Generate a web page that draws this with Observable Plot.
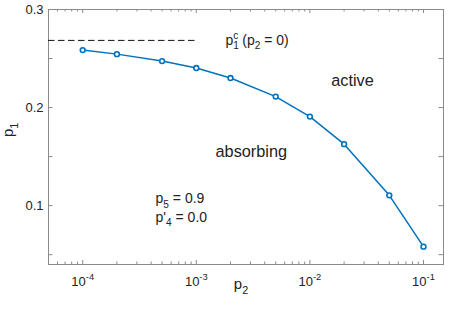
<!DOCTYPE html>
<html><head><meta charset="utf-8">
<script src="https://cdn.jsdelivr.net/npm/d3@7"></script>
<script src="https://cdn.jsdelivr.net/npm/@observablehq/plot@0.6"></script>
<style>
body{margin:0;background:#fff}
#chart svg{font-family:"Liberation Sans",Arial,Helvetica,sans-serif;background:#fff}
</style>
</head><body><div id="chart"></div>
<script>
// ---- data ----
const p2 = [1e-4, 2e-4, 5e-4, 1e-3, 2e-3, 5e-3, 1e-2, 2e-2, 5e-2, 1e-1];
const p1 = [0.2586, 0.2545, 0.2474, 0.2403, 0.2301, 0.2112, 0.1908, 0.1627, 0.1105, 0.0582];
const p1c = 0.2685;
const p1cRange = [5e-5, 1e-3];
const xDomain = [5e-5, 0.15];
const yDomain = [0.04, 0.3];
const xMajor = [1e-4, 1e-3, 1e-2, 1e-1];
const xTickLabels = ["10^{-4}", "10^{-3}", "10^{-2}", "10^{-1}"];
const xMinor = [5e-5, 6e-5, 7e-5, 8e-5, 9e-5,
  2e-4, 3e-4, 4e-4, 5e-4, 6e-4, 7e-4, 8e-4, 9e-4,
  2e-3, 3e-3, 4e-3, 5e-3, 6e-3, 7e-3, 8e-3, 9e-3,
  2e-2, 3e-2, 4e-2, 5e-2, 6e-2, 7e-2, 8e-2, 9e-2];
const yTicks = [0.05, 0.1, 0.15, 0.2, 0.25, 0.3];
const yLabeled = [0.1, 0.2, 0.3];
const yTickLabels = ["0.1", "0.2", "0.3"];
const regionLabels = ["active", "absorbing"];
const regionX = [0.0237, 3.05e-3];
const regionY = [0.2276, 0.1546];
const paramLabels = ["p_{5} = 0.9", "p'_{4} = 0.0"];
const paramX = [4.38e-4, 4.38e-4];
const paramY = [0.1072, 0.0882];
const critLabel = "p_{1}^{c} (p_{2} = 0)";
const critX = 1.81e-3;
const critY = 0.2688;
const xLabel = "p_{2}";
const yLabel = "p_{1}";

// ---- layout ----
const W = 450, H = 311, mL = 48, mR = 7, mT = 9, mB = 47;
const plotH = H - mT - mB, plotW = W - mL - mR;
const axisColor = "#8a8a8a", blue = "#0072BD", ink = "#222";

const pts = p2.map((x, i) => ({x, y: p1[i]}));
const regions = regionLabels.map((t, i) => ({t, x: regionX[i], y: regionY[i]}));
const params = paramLabels.map((t, i) => ({t, x: paramX[i], y: paramY[i]}));

const chart = Plot.plot({
  width: W, height: H,
  marginLeft: mL, marginRight: mR, marginTop: mT, marginBottom: mB,
  x: {type: "log", domain: xDomain},
  y: {domain: yDomain},
  style: {fontSize: "13px", color: ink},
  marks: [
    Plot.frame({stroke: axisColor, strokeWidth: 1}),
    // ticks (inward, all four sides)
    Plot.ruleX(xMajor, {x: d => d, insetTop: plotH - 4, stroke: axisColor}),
    Plot.ruleX(xMajor, {x: d => d, insetBottom: plotH - 4, stroke: axisColor}),
    Plot.ruleX(xMinor, {x: d => d, insetTop: plotH - 2.5, stroke: axisColor}),
    Plot.ruleX(xMinor, {x: d => d, insetBottom: plotH - 2.5, stroke: axisColor}),
    Plot.ruleY(yTicks, {y: d => d, insetRight: plotW - 4.5, stroke: axisColor}),
    Plot.ruleY(yTicks, {y: d => d, insetLeft: plotW - 4.5, stroke: axisColor}),
    Plot.axisX({ticks: xMajor, tickSize: 0, tickPadding: 12, label: null,
      tickFormat: d => xTickLabels[xMajor.indexOf(d)], fontSize: 13, fill: ink}),
    Plot.axisY({ticks: yLabeled, tickSize: 0, tickPadding: 5, label: null,
      tickFormat: d => yTickLabels[yLabeled.indexOf(d)], fontSize: 13, fill: ink}),
    // dashed critical line
    Plot.ruleY([p1c], {y: d => d, x1: p1cRange[0], x2: p1cRange[1], stroke: "#111", strokeWidth: 1, strokeDasharray: "6.5,3.5"}),
    // data
    Plot.line(pts, {x: "x", y: "y", stroke: blue, strokeWidth: 1.5}),
    Plot.dot(pts, {x: "x", y: "y", r: 2.4, stroke: blue, strokeWidth: 1.6, fill: "white"}),
    // annotations
    Plot.text(regions, {x: "x", y: "y", text: "t", fontSize: 16.3, fill: ink}),
    Plot.text(params, {x: "x", y: "y", text: "t", fontSize: 14, fill: ink, textAnchor: "start"}),
    Plot.text([critLabel], {x: critX, y: critY, text: d => d, fontSize: 14, fill: ink, textAnchor: "start"}),
    Plot.text([xLabel], {frameAnchor: "bottom", text: d => d, dy: 24.5, dx: -5, fontSize: 15, fill: ink}),
    Plot.text([yLabel], {frameAnchor: "left", text: d => d, rotate: -90, dx: -40.5, fontSize: 15, fill: ink})
  ]
});
document.getElementById("chart").appendChild(chart);

// ---- rich text: _{sub} and ^{sup} ----
function richify(el) {
  const s = el.textContent;
  if (!/[_^]\{/.test(s)) return;
  const fs = parseFloat(getComputedStyle(el).fontSize) || 13;
  const re = /([_^])\{([^}]*)\}|([^_^]+)/g;
  const segs = [];
  let m;
  while ((m = re.exec(s))) {
    if (m[3] !== undefined) segs.push({t: m[3], k: "base"});
    else segs.push({t: m[2], k: m[1] === "_" ? "sub" : "sup"});
  }
  el.textContent = "";
  const ns = "http://www.w3.org/2000/svg";
  let cur = 0, prev = null;
  for (const sg of segs) {
    const ts = document.createElementNS(ns, "tspan");
    ts.textContent = sg.t;
    const target = sg.k === "sub" ? 0.32 * fs : sg.k === "sup" ? -0.42 * fs : 0;
    if (target !== cur) ts.setAttribute("dy", (target - cur).toFixed(2));
    cur = target;
    if (sg.k !== "base") ts.setAttribute("font-size", (0.72 * fs).toFixed(2));
    el.appendChild(ts);
    if (sg.k !== "base" && prev && prev.k !== "base") {
      ts.setAttribute("dx", (-prev.el.getComputedTextLength()).toFixed(2));
    }
    prev = {k: sg.k, el: ts};
  }
}
chart.querySelectorAll("text").forEach(richify);
</script>
</body></html>
